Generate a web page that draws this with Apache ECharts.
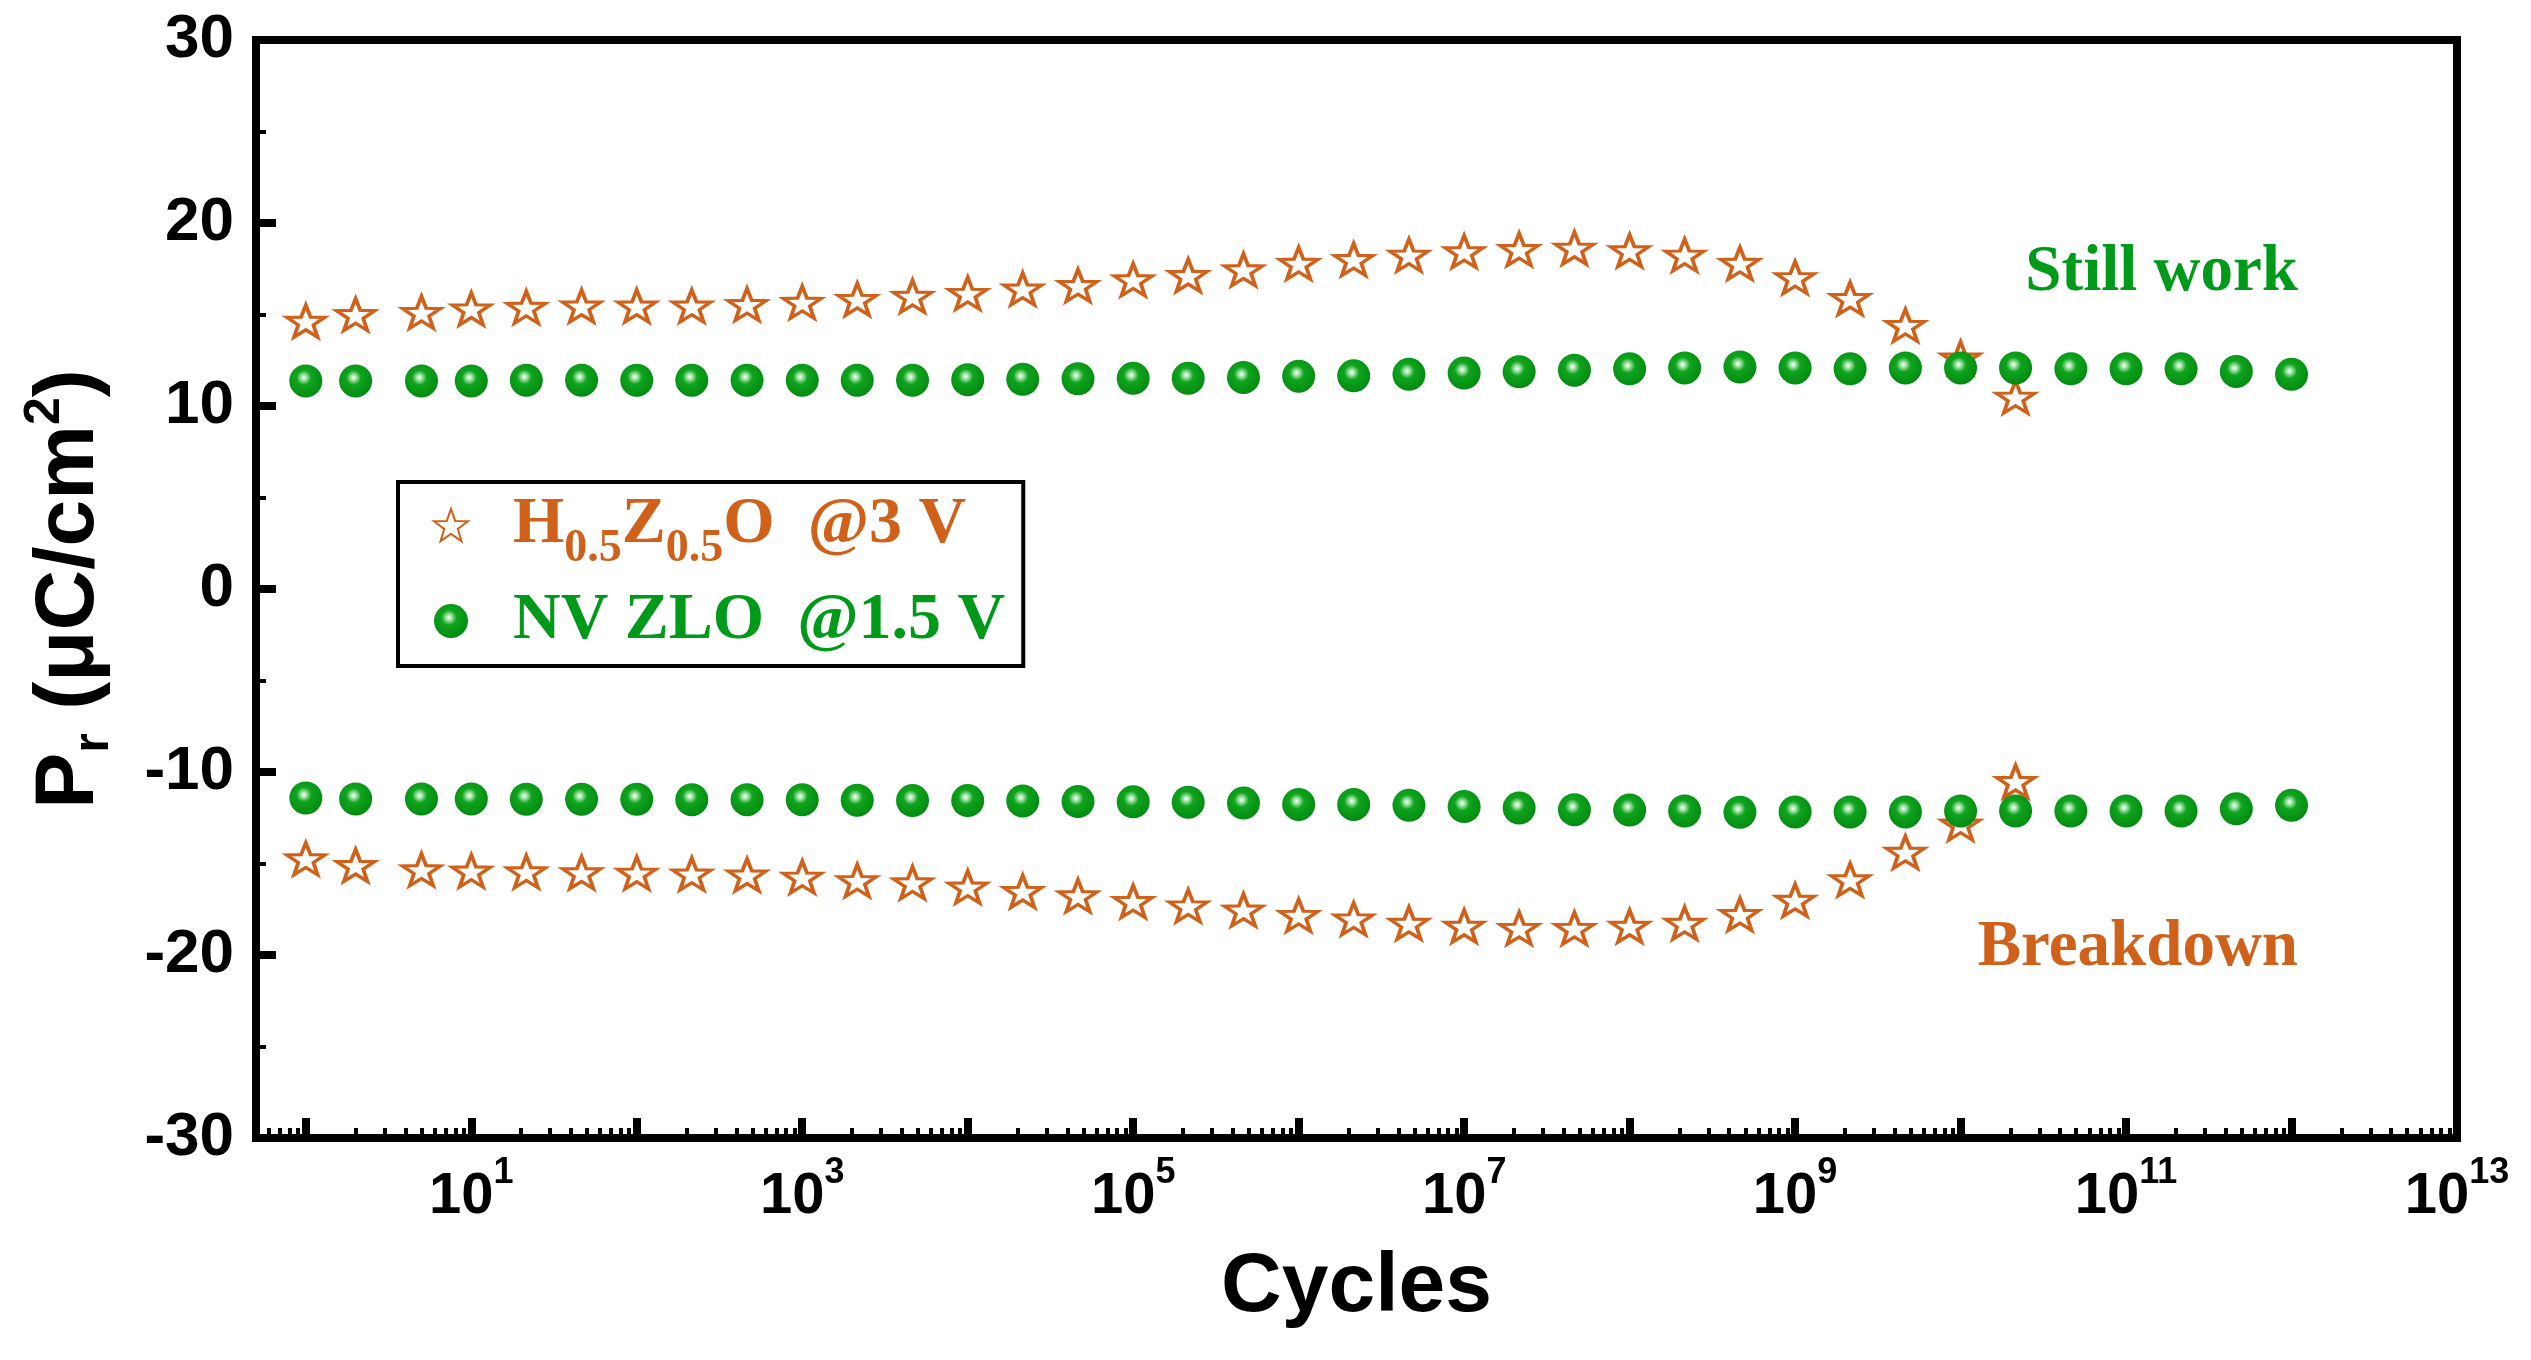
<!DOCTYPE html>
<html lang="en">
<head>
<meta charset="UTF-8">
<title>Pr vs Cycles</title>
<script src="https://cdn.jsdelivr.net/npm/echarts@6/dist/echarts.min.js"></script>
<style>
  html, body { margin: 0; padding: 0; background: #fff; }
  #main { width: 2531px; height: 1360px; }
</style>
</head>
<body>
<div id="main"></div>
<script>
  // cycle counts (x, log axis)
  var cycles = [1, 2, 5, 10, 21.5, 46.4, 100, 215, 464,
    1e3, 2.15e3, 4.64e3, 1e4, 2.15e4, 4.64e4, 1e5, 2.15e5, 4.64e5,
    1e6, 2.15e6, 4.64e6, 1e7, 2.15e7, 4.64e7, 1e8, 2.15e8, 4.64e8,
    1e9, 2.15e9, 4.64e9, 1e10, 2.15e10, 4.64e10, 1e11, 2.15e11, 4.64e11, 1e12];

  // H0.5Z0.5O @3 V  (+Pr / -Pr), 32 points, breaks down after 2e10
  var hzoPos = [14.64, 15.0, 15.12, 15.31, 15.4, 15.47, 15.47, 15.47, 15.55, 15.67, 15.83, 16.0,
    16.16, 16.4, 16.59, 16.9, 17.14, 17.45, 17.8, 18.01, 18.25, 18.44, 18.56, 18.63,
    18.49, 18.25, 17.8, 17.02, 15.88, 14.41, 12.63, 10.49];
  var hzoNeg = [-14.74, -15.1, -15.34, -15.41, -15.45, -15.5, -15.52, -15.57, -15.62, -15.74, -15.93, -16.05,
    -16.28, -16.52, -16.76, -17.07, -17.31, -17.54, -17.83, -18.02, -18.26, -18.42, -18.54, -18.54,
    -18.42, -18.26, -17.78, -17.0, -15.88, -14.38, -12.84, -10.51];

  // NV ZLO @1.5 V  (+Pr / -Pr), 37 points
  var zloPos = [11.37, 11.37, 11.37, 11.37, 11.41, 11.41, 11.41, 11.41, 11.41, 11.41, 11.41, 11.41,
    11.44, 11.46, 11.49, 11.51, 11.51, 11.56, 11.63, 11.65, 11.73, 11.8, 11.87, 11.96,
    12.03, 12.08, 12.13, 12.08, 12.03, 12.08, 12.08, 12.08, 12.03, 12.03, 12.03, 11.89, 11.73];
  var zloNeg = [-11.42, -11.47, -11.47, -11.47, -11.49, -11.49, -11.49, -11.51, -11.51, -11.51, -11.54, -11.56,
    -11.56, -11.58, -11.61, -11.63, -11.65, -11.70, -11.77, -11.77, -11.82, -11.89, -11.97, -12.06,
    -12.08, -12.13, -12.2, -12.18, -12.18, -12.18, -12.13, -12.13, -12.13, -12.13, -12.13, -12.01, -11.82];

  // axis ticks
  var decades = [0, 1, 2, 3, 4, 5, 6, 7, 8, 9, 10, 11, 12];
  var minorMults = [2, 3, 4, 5, 6, 7, 8, 9];
  var labelValues = [10, 1e3, 1e5, 1e7, 1e9, 1e11, 1e13];

  var nameHZO = 'H0.5Z0.5O  @3 V';
  var nameZLO = 'NV ZLO  @1.5 V';

  var orange = '#D0611A';
  var green = '#009a1a';
  var sans = '"Liberation Sans", Arial, sans-serif';
  var serif = '"Liberation Serif", "Times New Roman", serif';

  var majorTicks = decades.map(function (d) { return Math.pow(10, d); });
  var minorTicks = [0.6, 0.7, 0.8, 0.9];
  decades.forEach(function (d) {
    minorMults.forEach(function (m) { minorTicks.push(m * Math.pow(10, d)); });
  });

  var starData = [];
  for (var i = 0; i < hzoPos.length; i++) starData.push([cycles[i], hzoPos[i]]);
  for (var j = 0; j < hzoNeg.length; j++) starData.push([cycles[j], hzoNeg[j]]);
  var ballData = [];
  for (var k = 0; k < zloPos.length; k++) ballData.push([cycles[k], zloPos[k]]);
  for (var n = 0; n < zloNeg.length; n++) ballData.push([cycles[n], zloNeg[n]]);

  var starPath = 'path://M50,0 L61.76,33.82 L97.55,34.55 L69.02,56.18 L79.39,90.45 L50,70 ' +
    'L20.61,90.45 L30.98,56.18 L2.45,34.55 L38.24,33.82 Z';

  var myChart = echarts.init(document.getElementById('main'));

  var ballFill = new echarts.graphic.RadialGradient(0.44, 0.4, 0.62, [
    { offset: 0, color: '#ffffff' },
    { offset: 0.14, color: '#9fe3a6' },
    { offset: 0.36, color: '#10a41e' },
    { offset: 1, color: '#008a10' }
  ]);

  var option = {
    animation: false,
    backgroundColor: '#fff',
    grid: {
      left: 256, right: 74, top: 40, bottom: 222,
      show: true, borderColor: '#000', borderWidth: 8, backgroundColor: 'transparent'
    },
    xAxis: [
      {
        type: 'log', logBase: 10, min: 0.5, max: 1e13, position: 'bottom',
        axisLine: { show: true, onZero: false, lineStyle: { color: '#000', width: 8 } },
        axisTick: { show: true, inside: true, length: 20, customValues: majorTicks,
          lineStyle: { color: '#000', width: 8 } },
        minorTick: { show: false },
        splitLine: { show: false },
        axisLabel: {
          customValues: labelValues, margin: 30,
          formatter: function (v) {
            return '{b|10}{s|' + Math.round(Math.log10(v)) + '}';
          },
          rich: {
            b: { fontSize: 58, fontWeight: 'bold', fontFamily: sans, color: '#000', lineHeight: 58 },
            s: { fontSize: 36, fontWeight: 'bold', fontFamily: sans, color: '#000', lineHeight: 10, height: 10, verticalAlign: 'top' }
          }
        },
        name: 'Cycles', nameLocation: 'middle', nameGap: 108,
        nameTextStyle: { fontSize: 84, fontWeight: 'bold', fontFamily: sans, color: '#000', lineHeight: 84 }
      },
      {
        type: 'log', logBase: 10, min: 0.5, max: 1e13, position: 'bottom',
        axisLine: { show: false, onZero: false },
        axisTick: { show: true, inside: true, length: 10, customValues: minorTicks,
          lineStyle: { color: '#000', width: 4 } },
        axisLabel: { show: false },
        splitLine: { show: false }
      }
    ],
    yAxis: {
      type: 'value', min: -30, max: 30, interval: 10,
      axisLine: { show: true, onZero: false, lineStyle: { color: '#000', width: 8 } },
      axisTick: { inside: true, length: 20, lineStyle: { color: '#000', width: 8 } },
      minorTick: { show: true, splitNumber: 2, length: 10, lineStyle: { color: '#000', width: 4 } },
      splitLine: { show: false },
      axisLabel: { margin: 22, fontSize: 62, fontWeight: 'bold', fontFamily: sans, color: '#000' },
      name: '{p|P}{r|r}{p| (μC/cm}{u|2}{p|)}',
      nameLocation: 'middle', nameRotate: 90, nameGap: 144,
      nameTextStyle: {
        rich: {
          p: { fontSize: 84, fontWeight: 'bold', fontFamily: sans, color: '#000', lineHeight: 84 },
          r: { fontSize: 50, fontWeight: 'bold', fontFamily: sans, color: '#000', lineHeight: 36, height: 36, verticalAlign: 'bottom' },
          u: { fontSize: 50, fontWeight: 'bold', fontFamily: sans, color: '#000', lineHeight: 34, height: 34, verticalAlign: 'top' }
        }
      }
    },
    legend: {
      orient: 'vertical', left: 398, top: 482,
      padding: [10, 18, 12, 35], itemGap: 16, itemWidth: 34, itemHeight: 34,
      borderColor: '#000', borderWidth: 4, backgroundColor: '#fff',
      selectedMode: false,
      data: [nameHZO, nameZLO],
      formatter: function (name) {
        if (name === nameHZO) return '{sp| }{o|H}{os|0.5}{o|Z}{os|0.5}{o|O  @3 V}';
        return '{sp| }{g|NV ZLO  @1.5 V}';
      },
      textStyle: {
        rich: {
          sp: { width: 40, fontSize: 20, lineHeight: 66 },
          o: { fontSize: 66, fontWeight: 'bold', fontFamily: serif, color: orange, lineHeight: 66 },
          os: { fontSize: 46, fontWeight: 'bold', fontFamily: serif, color: orange, lineHeight: 18, height: 18, verticalAlign: 'bottom' },
          g: { fontSize: 66, fontWeight: 'bold', fontFamily: serif, color: green, lineHeight: 66 }
        }
      }
    },
    graphic: {
      elements: [
        { type: 'text', x: 2298, y: 273, z: 100,
          style: { text: 'Still work', fill: green, font: 'bold 65px ' + serif, align: 'right', verticalAlign: 'middle' } },
        { type: 'text', x: 2298, y: 948, z: 100,
          style: { text: 'Breakdown', fill: orange, font: 'bold 65px ' + serif, align: 'right', verticalAlign: 'middle' } }
      ]
    },
    series: [
      {
        name: nameHZO, type: 'scatter', xAxisIndex: 0,
        symbol: starPath, symbolSize: [38, 32], symbolKeepAspect: false,
        itemStyle: { color: '#fff', borderColor: orange, borderWidth: 3.5, opacity: 1 },
        data: starData
      },
      {
        name: nameZLO, type: 'scatter', xAxisIndex: 0,
        symbol: 'circle', symbolSize: 33,
        itemStyle: { color: ballFill, opacity: 1 },
        data: ballData
      }
    ]
  };

  option && myChart.setOption(option);
</script>
</body>
</html>
